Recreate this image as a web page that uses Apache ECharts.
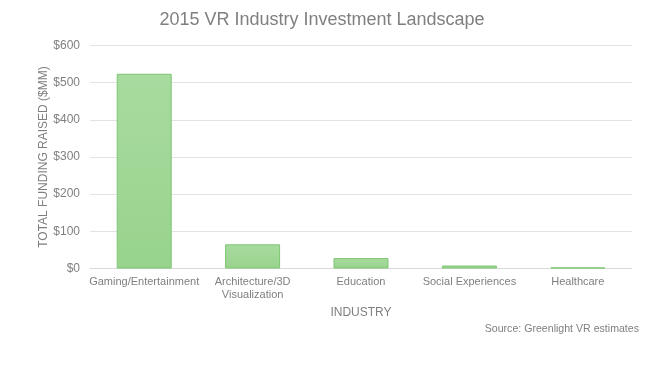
<!DOCTYPE html>
<html><head><meta charset="utf-8">
<script src="https://cdn.jsdelivr.net/npm/echarts@6/dist/echarts.min.js"></script>
<style>html,body{margin:0;padding:0;background:#fff}#c{width:668px;height:365px}</style>
</head><body><div id="c"></div>
<script>
const categories = ["Gaming/Entertainment", "Architecture/3D\nVisualization", "Education", "Social Experiences", "Healthcare"];
const funding = [524, 65, 28, 8, 3];
const yTicks = [0, 100, 200, 300, 400, 500, 600];

const chart = echarts.init(document.getElementById('c'), null, {renderer: 'canvas'});
chart.setOption({
  animation: false,
  textStyle: {fontFamily: 'Liberation Sans, Arial, sans-serif'},
  title: [{
    text: '2015 VR Industry Investment Landscape',
    left: 317, top: 6, textAlign: 'center',
    textStyle: {fontSize: 18, fontWeight: 'normal', color: '#7f7f7f', fontFamily: 'Liberation Sans, Arial, sans-serif'}
  }, {
    text: 'Source: Greenlight VR estimates',
    right: 24, top: 319,
    textStyle: {fontSize: 10.6, fontWeight: 'normal', color: '#7f7f7f', fontFamily: 'Liberation Sans, Arial, sans-serif'}
  }],
  grid: {left: 90, right: 36, top: 45.5, bottom: 96.5},
  xAxis: {
    type: 'category', data: categories,
    axisLine: {lineStyle: {color: '#d9d9d9', width: 1}},
    axisTick: {show: false},
    axisLabel: {color: '#7f7f7f', fontSize: 11, margin: 7, interval: 0, lineHeight: 13},
    name: 'INDUSTRY', nameLocation: 'middle', nameGap: 38, nameMoveOverlap: false,
    nameTextStyle: {color: '#7f7f7f', fontSize: 12}
  },
  yAxis: {
    type: 'value', min: yTicks[0], max: yTicks[yTicks.length-1], interval: 100,
    axisLine: {show: false}, axisTick: {show: false},
    splitLine: {lineStyle: {color: '#e3e3e3', width: 1}},
    axisLabel: {color: '#7f7f7f', fontSize: 12, margin: 10, formatter: v => '$' + v},
    name: 'TOTAL FUNDING RAISED ($MM)', nameLocation: 'middle', nameGap: 40, nameMoveOverlap: false,
    nameTextStyle: {color: '#7f7f7f', fontSize: 12}
  },
  series: [{
    type: 'bar', data: funding, barWidth: 55,
    itemStyle: {
      color: new echarts.graphic.LinearGradient(0, 0, 0, 1, [
        {offset: 0, color: '#a8db9f'}, {offset: 1, color: '#98d38d'}
      ]),
      borderColor: '#7cc771', borderWidth: 1
    }
  }]
});
</script></body></html>
